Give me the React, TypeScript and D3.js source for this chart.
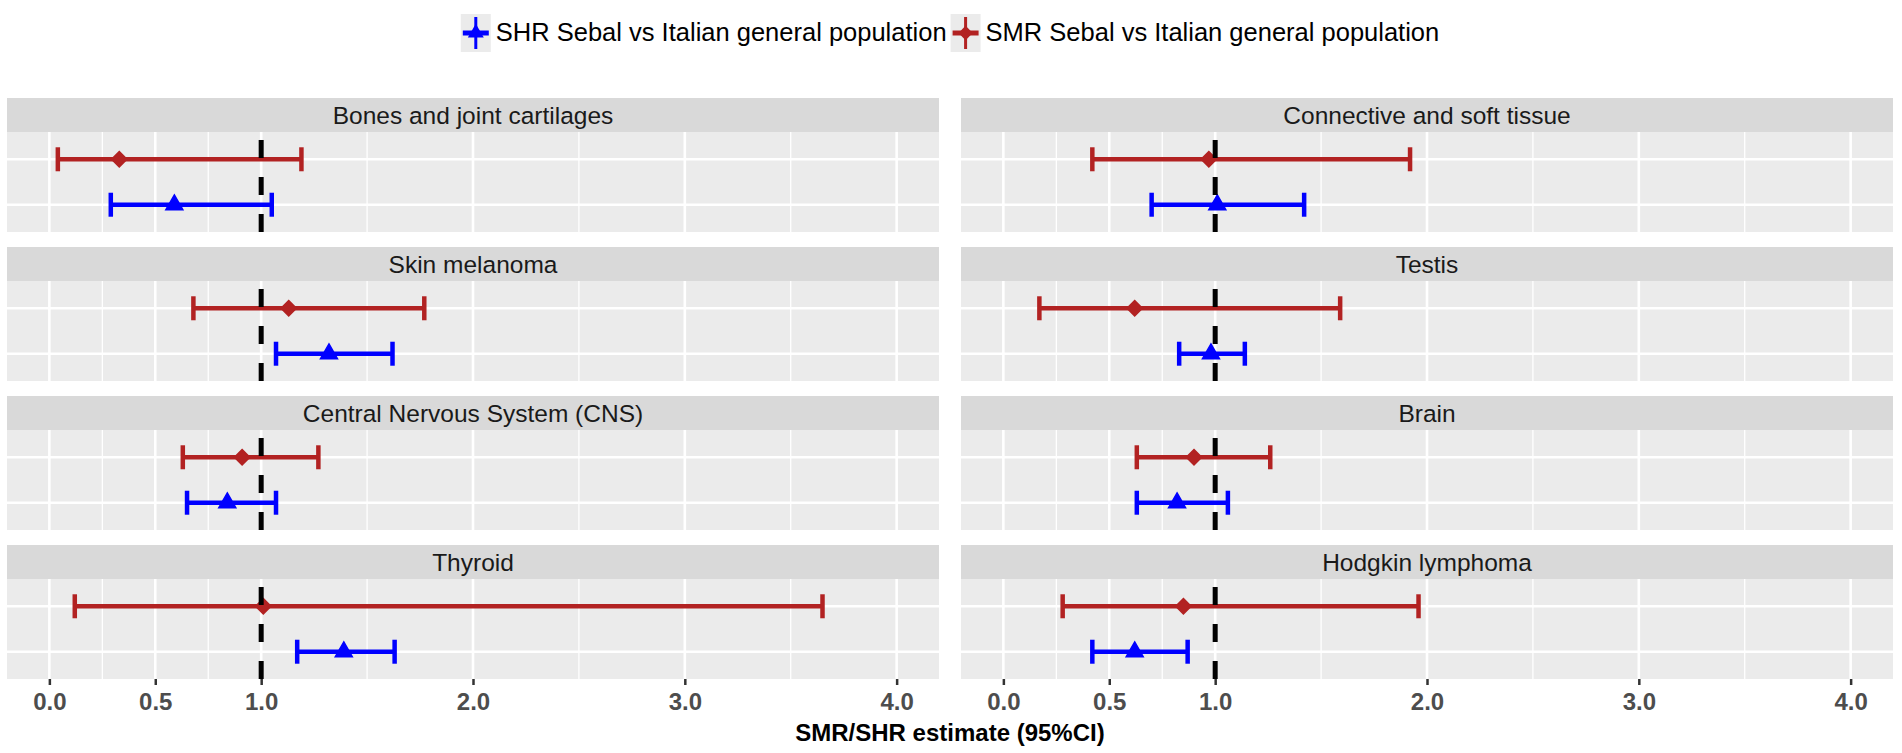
import { useRef, useEffect } from "react";
import * as d3 from "d3";

// facet order: filled row by row, two columns
const categories = [
  "Bones and joint cartilages",
  "Connective and soft tissue",
  "Skin melanoma",
  "Testis",
  "Central Nervous System (CNS)",
  "Brain",
  "Thyroid",
  "Hodgkin lymphoma",
];

// SMR (red) estimates and 95% CI
const smrEst = [0.33, 0.97, 1.13, 0.62, 0.91, 0.9, 1.01, 0.85];
const smrLow = [0.04, 0.42, 0.68, 0.17, 0.63, 0.63, 0.12, 0.28];
const smrHigh = [1.19, 1.92, 1.77, 1.59, 1.27, 1.26, 3.65, 1.96];

// SHR (blue) estimates and 95% CI
const shrEst = [0.59, 1.01, 1.32, 0.98, 0.84, 0.82, 1.39, 0.62];
const shrLow = [0.29, 0.7, 1.07, 0.83, 0.65, 0.63, 1.17, 0.42];
const shrHigh = [1.05, 1.42, 1.62, 1.14, 1.07, 1.06, 1.63, 0.87];

const xTicks = [0, 0.5, 1, 2, 3, 4];
const xMinor = [0.25, 0.75, 1.5, 2.5, 3.5];
const seriesLabels = [
  "SHR Sebal vs Italian general population",
  "SMR Sebal vs Italian general population",
];
const xTitle = "SMR/SHR estimate (95%CI)";

const RED = "#B22222";
const BLUE = "#0000FF";
const FONT = "'Liberation Sans', Arial, Helvetica, sans-serif";

export default function App() {
  const svgRef = useRef<SVGSVGElement>(null);

  useEffect(() => {
    if (!svgRef.current) return;
    const svg = d3.select(svgRef.current);
    svg.selectAll("*").remove();

    const width = 1902;
    const height = 753;
    const panelW = 932;
    const panelH = 100;
    const stripH = 34;
    const colX = [7, 961];
    const firstTop = 98;
    const rowStep = 149;
    const centerX = (colX[0] + colX[1] + panelW) / 2;

    svg.append("rect").attr("width", width).attr("height", height).attr("fill", "#fff");

    const x = d3.scaleLinear().domain([-0.2, 4.2]).range([0, panelW]);
    const y = d3.scalePoint<string>().domain(["SMR", "SHR"]).range([0, panelH]).padding(0.6);

    const series = [
      { key: "SMR", est: smrEst, lo: smrLow, hi: smrHigh, color: RED, shape: d3.symbolDiamond2, size: 150 },
      { key: "SHR", est: shrEst, lo: shrLow, hi: shrHigh, color: BLUE, shape: d3.symbolTriangle, size: 125 },
    ];

    categories.forEach((cat, i) => {
      const col = i % 2;
      const row = Math.floor(i / 2);
      const left = colX[col];
      const stripTop = firstTop + row * rowStep;
      const top = stripTop + stripH;

      // strip
      svg.append("rect")
        .attr("x", left).attr("y", stripTop)
        .attr("width", panelW).attr("height", stripH)
        .attr("fill", "#D9D9D9");
      svg.append("text")
        .attr("x", left + panelW / 2).attr("y", stripTop + stripH / 2 + 8.5)
        .attr("text-anchor", "middle")
        .attr("font-family", FONT).attr("font-size", 24.5)
        .attr("fill", "#1A1A1A")
        .text(cat);

      const g = svg.append("g").attr("transform", `translate(${left},${top})`);
      g.append("rect").attr("width", panelW).attr("height", panelH).attr("fill", "#EBEBEB");

      // grid
      g.selectAll(".minor").data(xMinor).enter().append("line")
        .attr("x1", (d) => x(d)).attr("x2", (d) => x(d))
        .attr("y1", 0).attr("y2", panelH)
        .attr("stroke", "#fff").attr("stroke-width", 1.3);
      g.selectAll(".major").data(xTicks).enter().append("line")
        .attr("x1", (d) => x(d)).attr("x2", (d) => x(d))
        .attr("y1", 0).attr("y2", panelH)
        .attr("stroke", "#fff").attr("stroke-width", 2.6);
      g.selectAll(".hmajor").data(y.domain()).enter().append("line")
        .attr("x1", 0).attr("x2", panelW)
        .attr("y1", (d) => y(d)!).attr("y2", (d) => y(d)!)
        .attr("stroke", "#fff").attr("stroke-width", 2.6);

      // error bars
      series.forEach((s) => {
        const yy = y(s.key)!;
        const x0 = x(s.lo[i]);
        const x1 = x(s.hi[i]);
        g.append("line").attr("x1", x0).attr("x2", x1).attr("y1", yy).attr("y2", yy)
          .attr("stroke", s.color).attr("stroke-width", 4.5);
        [x0, x1].forEach((xc) => {
          g.append("line").attr("x1", xc).attr("x2", xc).attr("y1", yy - 12).attr("y2", yy + 12)
            .attr("stroke", s.color).attr("stroke-width", 4.5);
        });
        g.append("path")
          .attr("d", d3.symbol().type(s.shape).size(s.size)())
          .attr("transform", `translate(${x(s.est[i])},${yy})`)
          .attr("fill", s.color)
          .attr("stroke", s.color).attr("stroke-width", 1.5);
      });

      // reference line at 1, dashes start from the bottom
      g.append("path")
        .attr("d", `M${x(1)},${panelH} L${x(1)},0`)
        .attr("stroke", "#000").attr("stroke-width", 5)
        .attr("stroke-dasharray", "18,19").attr("fill", "none");

      // bottom axis on last row
      if (row === 3) {
        const axis = svg.append("g")
          .attr("transform", `translate(${left},${top + panelH})`)
          .call(d3.axisBottom(x).tickValues(xTicks).tickFormat((d) => d3.format(".1f")(d as number)).tickSize(6).tickPadding(8));
        axis.select(".domain").remove();
        axis.selectAll("line").attr("stroke", "#333333").attr("stroke-width", 2.5);
        axis.selectAll("text")
          .attr("font-family", FONT).attr("font-size", 24).attr("font-weight", "bold")
          .attr("fill", "#4D4D4D");
      }
    });

    // x title
    svg.append("text")
      .attr("x", centerX).attr("y", 741)
      .attr("text-anchor", "middle")
      .attr("font-family", FONT).attr("font-size", 24).attr("font-weight", "bold")
      .attr("fill", "#000")
      .text(xTitle);

    // legend, centred over the plot
    const legendItems = [
      { label: seriesLabels[0], color: BLUE, shape: d3.symbolTriangle, size: 110 },
      { label: seriesLabels[1], color: RED, shape: d3.symbolDiamond2, size: 130 },
    ];
    const keyW = 30;
    const keyH = 38;
    const keyTop = 14;
    const textGap = 5;
    const itemGap = 4;
    const legend = svg.append("g");
    const texts = legendItems.map((it) =>
      legend.append("text")
        .attr("y", keyTop + keyH / 2 + 8)
        .attr("font-family", FONT).attr("font-size", 25.5)
        .attr("fill", "#000")
        .text(it.label)
    );
    const widths = texts.map((t) => (t.node() as SVGTextElement).getComputedTextLength());
    const total = 2 * (keyW + textGap) + widths[0] + widths[1] + itemGap;
    let cx = centerX - total / 2;
    legendItems.forEach((it, k) => {
      const lg = legend.append("g").attr("transform", `translate(${cx},${keyTop})`);
      lg.append("rect").attr("width", keyW).attr("height", keyH).attr("fill", "#EBEBEB");
      lg.append("line").attr("x1", keyW / 2).attr("x2", keyW / 2).attr("y1", 3).attr("y2", keyH - 3)
        .attr("stroke", it.color).attr("stroke-width", 3);
      lg.append("line").attr("x1", 2).attr("x2", keyW - 2).attr("y1", keyH / 2).attr("y2", keyH / 2)
        .attr("stroke", it.color).attr("stroke-width", 5);
      lg.append("path")
        .attr("d", d3.symbol().type(it.shape).size(it.size)())
        .attr("transform", `translate(${keyW / 2},${keyH / 2})`)
        .attr("fill", it.color);
      texts[k].attr("x", cx + keyW + textGap);
      cx += keyW + textGap + widths[k] + itemGap;
    });
  }, []);

  return (
    <svg
      ref={svgRef}
      width={1902}
      height={753}
      style={{ position: "absolute", left: 0, top: 0, display: "block" }}
    />
  );
}
